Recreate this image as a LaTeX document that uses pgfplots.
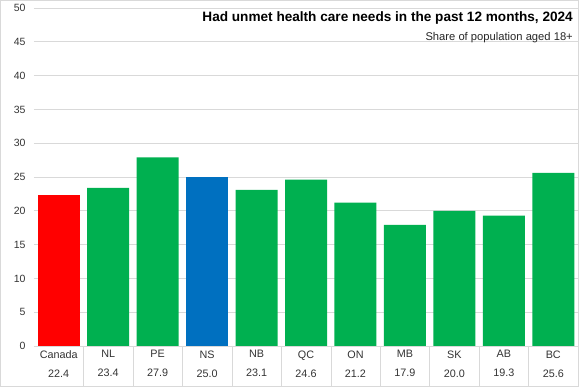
\documentclass[border=0pt]{standalone}
\usepackage{fontspec}
\setmainfont{Liberation Sans}
\usepackage{pgfplots}
\pgfplotsset{compat=1.18}
\definecolor{exgreen}{HTML}{00B050}
\definecolor{exred}{HTML}{FF0000}
\definecolor{exblue}{HTML}{0070C0}
\definecolor{gridc}{HTML}{D9D9D9}
\begin{document}
\begin{tikzpicture}
\useasboundingbox (0pt,0pt) rectangle (579pt,387pt);
\draw[gridc] (0.5pt,0.5pt) rectangle (578.5pt,386.5pt);
\begin{axis}[
  at={(34pt,41pt)}, anchor=south west,
  scale only axis, width=544pt, height=338pt,
  xmin=-0.5, xmax=10.5, ymin=0, ymax=50,
  ytick={0,5,...,50},
  xtick={0,...,10},
  xticklabels={{Canada\\22.4},{NL\\23.4},{PE\\27.9},{NS\\25.0},{NB\\23.1},{QC\\24.6},{ON\\21.2},{MB\\17.9},{SK\\20.0},{AB\\19.3},{BC\\25.6}},
  xticklabel style={align=center, font=\fontsize{10.8}{19}\selectfont, text=black!80, yshift=-1pt},
  yticklabel style={font=\fontsize{10.5}{12}\selectfont, text=black!80, xshift=-5pt},
  /pgf/number format/assume math mode=true,
  ymajorgrids, grid style={draw=gridc, line width=0.8pt},
  axis line style={draw=none},
  major tick length=0pt,
  ybar, bar width=42pt,
  clip=false,
]
\addplot[fill=exred, draw=none, bar shift=0pt] coordinates {(0,22.4)};
\addplot[fill=exgreen, draw=none, bar shift=0pt] coordinates {(1,23.4) (2,27.9) (4,23.1) (5,24.6) (6,21.2) (7,17.9) (8,20.0) (9,19.3) (10,25.6)};
\addplot[fill=exblue, draw=none, bar shift=0pt] coordinates {(3,25.0)};
\draw[gridc] (axis cs:0.5,0) -- (axis cs:0.5,-5.9);
\draw[gridc] (axis cs:1.5,0) -- (axis cs:1.5,-5.9);
\draw[gridc] (axis cs:2.5,0) -- (axis cs:2.5,-5.9);
\draw[gridc] (axis cs:3.5,0) -- (axis cs:3.5,-5.9);
\draw[gridc] (axis cs:4.5,0) -- (axis cs:4.5,-5.9);
\draw[gridc] (axis cs:5.5,0) -- (axis cs:5.5,-5.9);
\draw[gridc] (axis cs:6.5,0) -- (axis cs:6.5,-5.9);
\draw[gridc] (axis cs:7.5,0) -- (axis cs:7.5,-5.9);
\draw[gridc] (axis cs:8.5,0) -- (axis cs:8.5,-5.9);
\draw[gridc] (axis cs:9.5,0) -- (axis cs:9.5,-5.9);
\end{axis}
\node[anchor=base east, inner sep=0pt, font=\bfseries\fontsize{13.6}{16}\selectfont] at (573pt,365pt) {Had unmet health care needs in the past 12 months, 2024};
\node[anchor=base east, inner sep=0pt, font=\fontsize{11.2}{13}\selectfont, text=black!85] at (573pt,346pt) {Share of population aged 18+};
\end{tikzpicture}
\end{document}
